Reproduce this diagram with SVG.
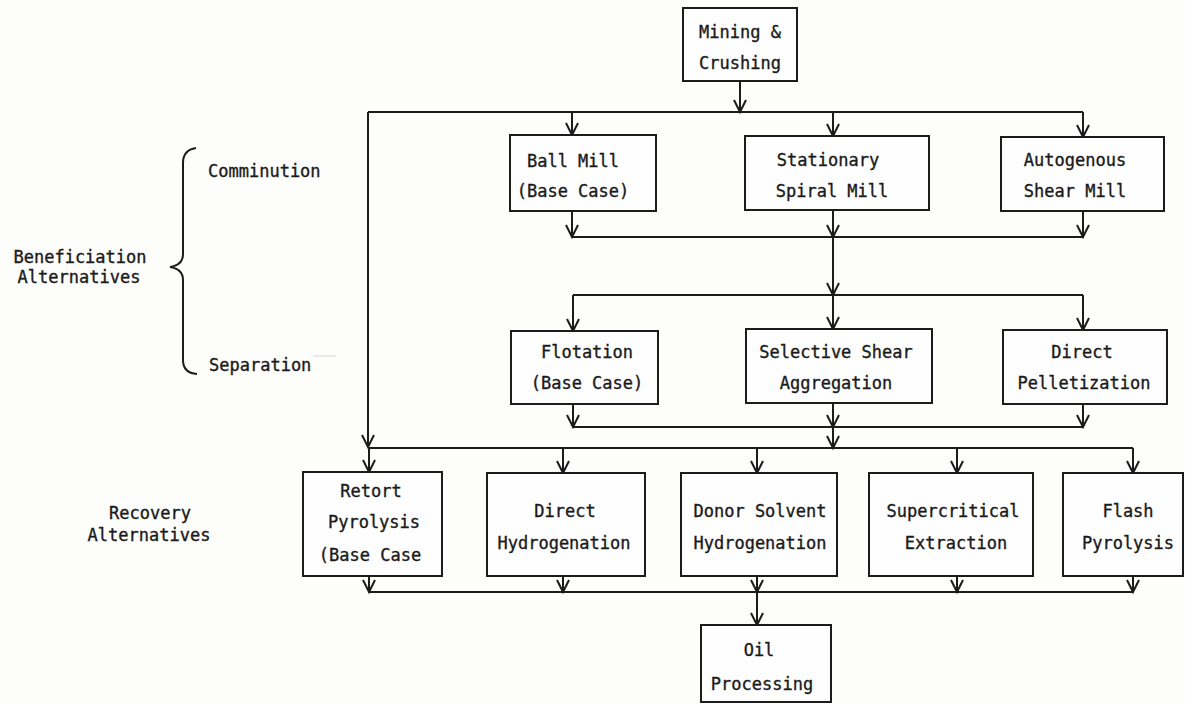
<svg xmlns="http://www.w3.org/2000/svg" width="1185" height="704" viewBox="0 0 1185 704">
<style>
.box{fill:#fefefe;stroke:#1c1c1c;stroke-width:2}
.ln{fill:none;stroke:#1c1c1c;stroke-width:2}
.ar{fill:none;stroke:#1c1c1c;stroke-width:2;marker-end:url(#arr)}
text{font-family:"DejaVu Sans Mono","Liberation Mono",monospace;font-size:17px;fill:#1a1a1a;stroke:#1a1a1a;stroke-width:0.35}
.c{text-anchor:middle}
</style>
<defs>
<marker id="arr" markerUnits="userSpaceOnUse" markerWidth="16" markerHeight="16" viewBox="0 -8 16 16" refX="13" refY="0" orient="auto">
<path d="M1,-6 L13,0 L1,6" fill="none" stroke="#1c1c1c" stroke-width="2"/>
</marker>
</defs>
<rect width="1185" height="704" fill="#fdfdfb"/>

<g id="connectors">
<path class="ar" d="M740,81 V112"/>
<path class="ln" d="M368,112 H1083"/>
<path class="ar" d="M572,112 V135"/>
<path class="ar" d="M833,112 V136"/>
<path class="ar" d="M1083,112 V137"/>
<path class="ar" d="M368,112 V447"/>
<path class="ar" d="M572,211 V237"/>
<path class="ar" d="M833,210 V237"/>
<path class="ar" d="M1083,211 V237"/>
<path class="ln" d="M572,237 H1083"/>
<path class="ar" d="M833,237 V295"/>
<path class="ln" d="M573,295 H1083"/>
<path class="ar" d="M573,295 V331"/>
<path class="ar" d="M833,295 V329"/>
<path class="ar" d="M1083,295 V330"/>
<path class="ar" d="M573,404 V427"/>
<path class="ar" d="M833,403 V427"/>
<path class="ar" d="M1083,404 V427"/>
<path class="ln" d="M573,427 H1083"/>
<path class="ar" d="M833,427 V448"/>
<path class="ln" d="M368,448 H1133"/>
<path class="ar" d="M369,448 V472"/>
<path class="ar" d="M563,448 V473"/>
<path class="ar" d="M757,448 V473"/>
<path class="ar" d="M957,448 V473"/>
<path class="ar" d="M1133,448 V473"/>
<path class="ar" d="M369,576 V592"/>
<path class="ar" d="M563,576 V592"/>
<path class="ar" d="M757,576 V592"/>
<path class="ar" d="M957,576 V592"/>
<path class="ar" d="M1133,576 V592"/>
<path class="ln" d="M369,592 H1133"/>
<path class="ar" d="M757,592 V625"/>
</g>

<g id="mining">
<rect class="box" x="683" y="8" width="114" height="73"/>
<text class="c" x="740" y="38">Mining &amp;</text>
<text class="c" x="740" y="69">Crushing</text>
</g>

<g id="ball-mill">
<rect class="box" x="510" y="135" width="146" height="76"/>
<text class="c" x="573" y="167">Ball Mill</text>
<text class="c" x="573" y="197">(Base Case)</text>
</g>
<g id="spiral-mill">
<rect class="box" x="745" y="136" width="184" height="74"/>
<text class="c" x="828" y="166">Stationary</text>
<text class="c" x="832" y="197">Spiral Mill</text>
</g>
<g id="shear-mill">
<rect class="box" x="1001" y="137" width="163" height="74"/>
<text class="c" x="1075" y="166">Autogenous</text>
<text class="c" x="1075" y="197">Shear Mill</text>
</g>

<g id="flotation">
<rect class="box" x="511" y="331" width="147" height="73"/>
<text class="c" x="587" y="358">Flotation</text>
<text class="c" x="587" y="389">(Base Case)</text>
</g>
<g id="aggregation">
<rect class="box" x="746" y="329" width="186" height="74"/>
<text class="c" x="836" y="358">Selective Shear</text>
<text class="c" x="836" y="389">Aggregation</text>
</g>
<g id="pelletization">
<rect class="box" x="1003" y="330" width="164" height="74"/>
<text class="c" x="1082" y="358">Direct</text>
<text class="c" x="1084" y="389">Pelletization</text>
</g>

<g id="retort">
<rect class="box" x="303" y="472" width="139" height="104"/>
<text class="c" x="371" y="497">Retort</text>
<text class="c" x="374" y="528">Pyrolysis</text>
<text class="c" x="370" y="561">(Base Case</text>
</g>
<g id="direct-hydrogenation">
<rect class="box" x="487" y="473" width="158" height="103"/>
<text class="c" x="565" y="517">Direct</text>
<text class="c" x="564" y="549">Hydrogenation</text>
</g>
<g id="donor-solvent">
<rect class="box" x="681" y="473" width="156" height="103"/>
<text class="c" x="760" y="517">Donor Solvent</text>
<text class="c" x="760" y="549">Hydrogenation</text>
</g>
<g id="supercritical">
<rect class="box" x="869" y="473" width="164" height="103"/>
<text class="c" x="953" y="517">Supercritical</text>
<text class="c" x="956" y="549">Extraction</text>
</g>
<g id="flash">
<rect class="box" x="1063" y="473" width="120" height="103"/>
<text class="c" x="1128" y="517">Flash</text>
<text class="c" x="1128" y="549">Pyrolysis</text>
</g>

<g id="oil">
<rect class="box" x="701" y="625" width="130" height="77"/>
<text class="c" x="759" y="656">Oil</text>
<text class="c" x="762" y="690">Processing</text>
</g>

<g id="labels">
<text x="208" y="177">Comminution</text>
<text x="209" y="371">Separation</text>
<path d="M313,356 H336" stroke="#d4d4d0" stroke-width="1" fill="none"/>
<text class="c" x="80" y="263">Beneficiation</text>
<text class="c" x="79" y="283">Alternatives</text>
<path class="ln" d="M196,148 Q183,150 183,163 L183,254 Q183,265 170,267 Q183,269 183,280 L183,360 Q183,373 197,374"/>
<text class="c" x="150" y="519">Recovery</text>
<text class="c" x="149" y="541">Alternatives</text>
</g>
</svg>
